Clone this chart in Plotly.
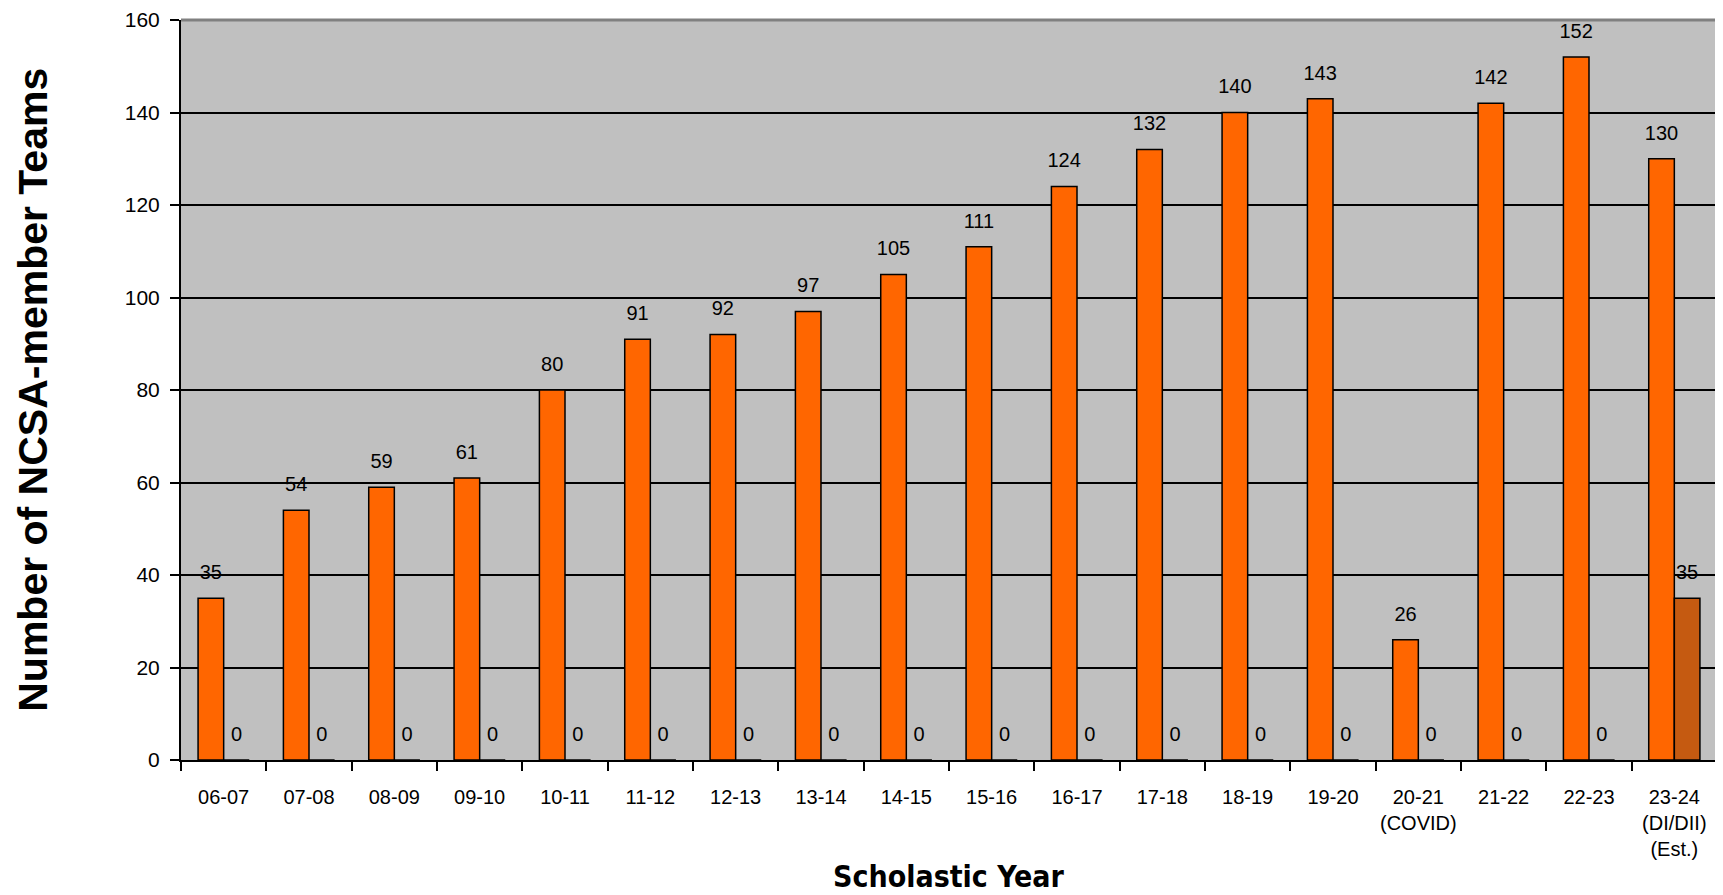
import plotly.graph_objects as go

categories = ["06-07", "07-08", "08-09", "09-10", "10-11", "11-12", "12-13", "13-14",
              "14-15", "15-16", "16-17", "17-18", "18-19", "19-20", "20-21<br>(COVID)",
              "21-22", "22-23", "23-24<br>(DI/DII)<br>(Est.)"]
teams_main = [35, 54, 59, 61, 80, 91, 92, 97, 105, 111, 124, 132, 140, 143, 26, 142, 152, 130]
teams_second = [0, 0, 0, 0, 0, 0, 0, 0, 0, 0, 0, 0, 0, 0, 0, 0, 0, 35]
y_ticks = [0, 20, 40, 60, 80, 100, 120, 140, 160]

cond = "DejaVu Sans Condensed, Liberation Sans, sans-serif"
regular = "Liberation Sans, Arial, sans-serif"

fig = go.Figure()
fig.add_trace(go.Bar(
    x=categories, y=teams_main, name="Teams",
    marker=dict(color="#FF6600", line=dict(color="black", width=1.5)),
))
fig.add_trace(go.Bar(
    x=categories, y=teams_second, name="Second",
    marker=dict(color="#C55A11", line=dict(color="black", width=1.5)),
))
# value labels, grouped to sit over each bar
for vals in (teams_main, teams_second):
    fig.add_trace(go.Scatter(
        x=categories, y=vals, mode="markers+text", text=vals,
        textposition="top center", cliponaxis=False, hoverinfo="skip",
        marker=dict(size=21, opacity=0),
        textfont=dict(family=regular, size=20, color="black"),
    ))

fig.update_layout(
    width=1715, height=887,
    margin=dict(l=173, r=6, t=12, b=135),
    paper_bgcolor="white", plot_bgcolor="#C0C0C0",
    barmode="group", bargap=0.4, bargroupgap=0,
    scattermode="group", scattergap=0.4,
    showlegend=False,
    xaxis=dict(
        type="category", tickson="boundaries", ticks="outside", ticklen=9,
        tickcolor="black", tickwidth=1.5, showline=True, linecolor="black", linewidth=2,
        showgrid=False, tickangle=0, automargin=False,
        tickfont=dict(family=regular, size=20, color="black"),
        ticklabelstandoff=18,
    ),
    yaxis=dict(
        range=[0, 160], tickvals=y_ticks, ticks="outside", ticklen=9, automargin=False,
        tickcolor="black", tickwidth=1.5, showline=True, linecolor="black", linewidth=2,
        showgrid=True, gridcolor="black", gridwidth=1.5, zeroline=False,
        tickfont=dict(family=regular, size=21, color="black"), ticklabelstandoff=6,
    ),
    shapes=[
        dict(type="line", xref="paper", yref="paper", x0=0, x1=1, y0=1, y1=1,
             line=dict(color="#808080", width=3)),
        dict(type="line", xref="paper", yref="paper", x0=1, x1=1, y0=0, y1=1,
             line=dict(color="#808080", width=2)),
    ],
    annotations=[
        dict(text="<b>Scholastic Year</b>", xref="paper", yref="paper", x=0.5, y=-0.157,
             xanchor="center", yanchor="middle", showarrow=False,
             font=dict(family=cond, size=30, color="black")),
        dict(text="<b>Number of NCSA-member Teams</b>", xref="paper", yref="paper",
             x=-0.0965, y=0.5, xanchor="center", yanchor="middle", textangle=-90,
             showarrow=False, font=dict(family=regular, size=41, color="black")),
    ],
)

fig.write_html("out.html")
